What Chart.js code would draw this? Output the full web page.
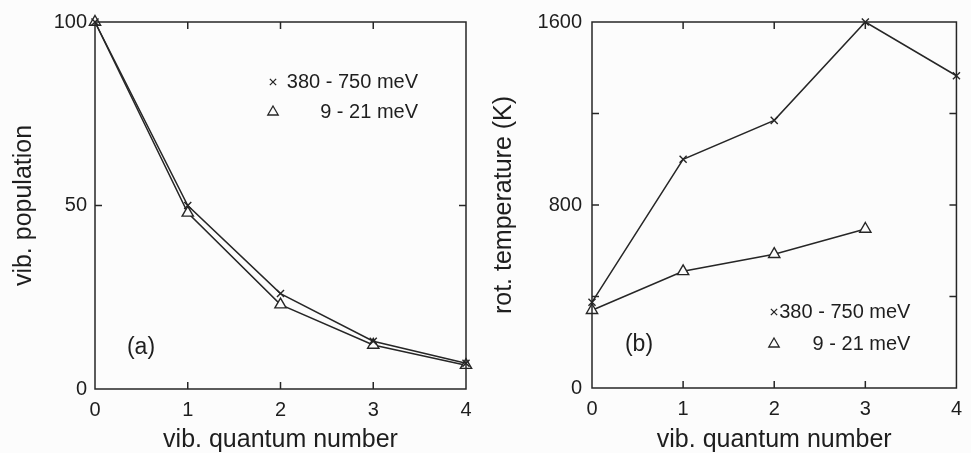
<!DOCTYPE html>
<html>
<head>
<meta charset="utf-8">
<script src="https://cdn.jsdelivr.net/npm/chart.js@4"></script>
<style>
  body { margin: 0; background: #fcfcfc; }
  .wrap { position: absolute; top: 0; height: 453px; }
  #left { left: 0; width: 485px; }
  #right { left: 485px; width: 486px; }
</style>
</head>
<body>
<div class="wrap" id="left"><canvas id="popChart"></canvas></div>
<div class="wrap" id="right"><canvas id="tempChart"></canvas></div>
<script>
// vib. quantum number
const quantumNumbers = [0, 1, 2, 3, 4];
// (a) vib. population
const popHigh = [100, 50, 26, 13, 7];     // 380 - 750 meV
const popLow = [100, 48, 23, 12, 6.5];    // 9 - 21 meV
// (b) rot. temperature (K)
const tempHigh = [375, 1000, 1170, 1600, 1365];
const tempLow = [340, 510, 585, 695];

const legendLabels = ["380 - 750 meV", "9 - 21 meV"];
const ink = "#262626";
const fontFamily = "'Liberation Sans', Arial, Helvetica, sans-serif";

function toPoints(ys) {
  return ys.map((y, i) => ({ x: quantumNumbers[i], y: y }));
}

function drawMarker(ctx, style, x, y, r) {
  ctx.save();
  ctx.strokeStyle = ink;
  ctx.lineWidth = 1.3;
  ctx.beginPath();
  if (style === "crossRot") {
    ctx.moveTo(x - r * 0.7, y - r * 0.7);
    ctx.lineTo(x + r * 0.7, y + r * 0.7);
    ctx.moveTo(x + r * 0.7, y - r * 0.7);
    ctx.lineTo(x - r * 0.7, y + r * 0.7);
  } else {
    const h = r * 0.87;
    ctx.moveTo(x, y - r);
    ctx.lineTo(x + h, y + r / 2);
    ctx.lineTo(x - h, y + r / 2);
    ctx.closePath();
  }
  ctx.stroke();
  ctx.restore();
}

// frame, inward ticks, legend and panel letter
const framePlugin = {
  id: "frame",
  afterDatasetsDraw(chart, args, opts) {
    const { ctx, chartArea: a } = chart;
    const xs = chart.scales.x, ys = chart.scales.y;
    ctx.save();
    ctx.strokeStyle = ink;
    ctx.lineWidth = 1.5;
    ctx.strokeRect(a.left, a.top, a.right - a.left, a.bottom - a.top);
    ctx.beginPath();
    xs.ticks.forEach(t => {
      if (t.value <= xs.min || t.value >= xs.max) return;
      const px = xs.getPixelForValue(t.value);
      ctx.moveTo(px, a.top); ctx.lineTo(px, a.top + 7);
      ctx.moveTo(px, a.bottom); ctx.lineTo(px, a.bottom - 7);
    });
    ys.ticks.forEach(t => {
      if (t.value <= ys.min || t.value >= ys.max) return;
      const py = ys.getPixelForValue(t.value);
      ctx.moveTo(a.left, py); ctx.lineTo(a.left + 7, py);
      ctx.moveTo(a.right, py); ctx.lineTo(a.right - 7, py);
    });
    ctx.stroke();

    ctx.fillStyle = "#1e1e1e";
    ctx.font = "20px " + fontFamily;
    ctx.textBaseline = "middle";
    ctx.textAlign = "right";
    const lg = opts.legend;
    const styles = ["crossRot", "triangle"];
    legendLabels.forEach((label, i) => {
      const ly = a.top + lg.rows[i];
      drawMarker(ctx, styles[i], a.left + lg.markerX, ly, i === 0 ? 4.5 : 6);
      ctx.fillText(label, a.right - lg.textRight, ly);
    });

    ctx.font = "23px " + fontFamily;
    ctx.textAlign = "center";
    ctx.fillText(opts.letter.text, a.left + opts.letter.dx, a.top + opts.letter.dy);
    ctx.restore();
  }
};

function makeChart(id, cfg) {
  return new Chart(document.getElementById(id), {
    type: "scatter",
    data: {
      datasets: [
        {
          label: legendLabels[0],
          data: toPoints(cfg.high),
          showLine: true,
          borderColor: ink,
          borderWidth: 1.5,
          pointStyle: "crossRot",
          pointRadius: 5,
          pointBorderWidth: 1.4,
          pointBorderColor: ink,
          clip: false,
        },
        {
          label: legendLabels[1],
          data: toPoints(cfg.low),
          showLine: true,
          borderColor: ink,
          borderWidth: 1.5,
          pointStyle: "triangle",
          pointRadius: 6.5,
          pointBorderWidth: 1.4,
          pointBorderColor: ink,
          pointBackgroundColor: "#fcfcfc",
          clip: false,
        },
      ],
    },
    options: {
      responsive: true,
      maintainAspectRatio: false,
      animation: false,
      layout: { padding: { left: 0, right: cfg.padRight, top: cfg.padTop, bottom: 0 } },
      scales: {
        x: {
          type: "linear",
          min: 0,
          max: 4,
          afterFit: s => { s.height = cfg.xHeight; },
          ticks: { stepSize: 1, padding: 9, color: "#1e1e1e", font: { family: fontFamily, size: 20 } },
          grid: { display: false, drawTicks: false },
          border: { display: false },
          title: {
            display: true,
            text: "vib. quantum number",
            color: "#1e1e1e",
            font: { family: fontFamily, size: 25, lineHeight: 1 },
            padding: { top: 0, bottom: 0 },
          },
        },
        y: {
          min: 0,
          max: cfg.yMax,
          afterFit: s => { s.width = cfg.yWidth; },
          ticks: {
            stepSize: cfg.yStep,
            padding: cfg.yPad,
            color: "#1e1e1e",
            font: { family: fontFamily, size: 20 },
            callback: v => (cfg.yLabels.includes(v) ? String(v) : ""),
          },
          grid: { display: false, drawTicks: false },
          border: { display: false },
          title: {
            display: true,
            text: cfg.yTitle,
            color: "#1e1e1e",
            font: { family: fontFamily, size: 25, lineHeight: 1 },
            padding: { top: cfg.yTitlePad, bottom: 0 },
          },
        },
      },
      plugins: {
        legend: { display: false },
        tooltip: { enabled: false },
        frame: { legend: cfg.legend, letter: cfg.letter },
      },
    },
    plugins: [framePlugin],
  });
}

makeChart("popChart", {
  high: popHigh,
  low: popLow,
  yMax: 100,
  yStep: 50,
  yLabels: [0, 50, 100],
  yTitle: "vib. population",
  yWidth: 95,
  yPad: 8,
  yTitlePad: 11.5,
  padRight: 19,
  padTop: 22,
  xHeight: 64,
  legend: { markerX: 178, textRight: 48, rows: [60, 90] },
  letter: { text: "(a)", dx: 46, dy: 326 },
});

makeChart("tempChart", {
  high: tempHigh,
  low: tempLow,
  yMax: 1600,
  yStep: 400,
  yLabels: [0, 800, 1600],
  yTitle: "rot. temperature (K)",
  yWidth: 107,
  yPad: 10,
  yTitlePad: 6.5,
  padRight: 7,
  padTop: 20,
  xHeight: 65,
  legend: { markerX: 182, textRight: 46, rows: [290, 322] },
  letter: { text: "(b)", dx: 47, dy: 323 },
});
</script>
</body>
</html>
